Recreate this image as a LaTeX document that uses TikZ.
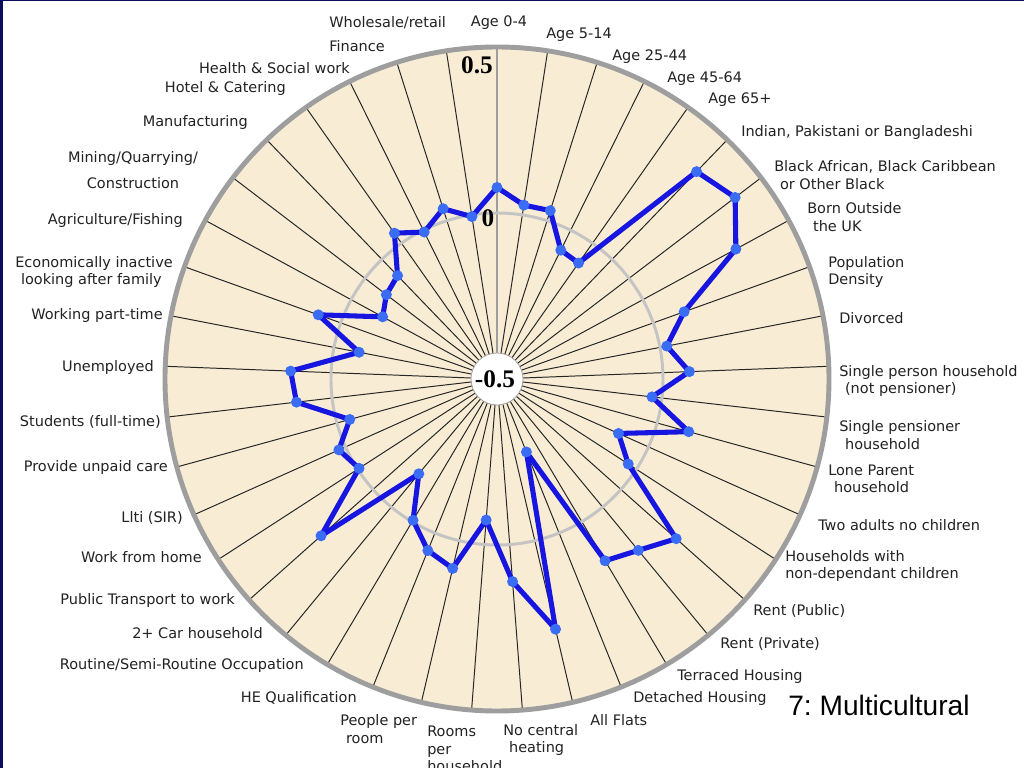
\documentclass[tikz,border=0pt]{standalone}
\usepackage{fontspec}
\setmainfont{DejaVu Sans}
\newfontfamily\numfont{Liberation Serif}
\newfontfamily\titlefont{Liberation Sans}
\definecolor{discfill}{RGB}{248,237,212}
\definecolor{ringgray}{RGB}{158,158,158}
\definecolor{zerogray}{RGB}{196,196,196}
\definecolor{lineblue}{RGB}{22,22,224}
\definecolor{dotblue}{RGB}{58,108,246}
\definecolor{framenavy}{RGB}{12,12,96}
\definecolor{labelgray}{RGB}{34,34,34}
\newcommand{\ind}{\hspace*{0.4em}}
\frenchspacing

\begin{document}
\begin{tikzpicture}[x=0.025cm, y=0.025cm,
    lbl/.style={font=\fontsize{10.3}{12.5}\selectfont, text=labelgray, inner sep=0pt, align=left},
    lblr/.style={lbl, anchor=west},
    lbll/.style={lbl, anchor=east, align=right},
    scalelbl/.style={font=\numfont\bfseries\fontsize{18}{18}\selectfont, inner sep=0pt},
    spoke/.style={black!85, line width=0.7pt},
    dataline/.style={lineblue, line width=3.6pt, line join=round},
    datadot/.style={fill=dotblue}]
\useasboundingbox (-497,-389) rectangle (527,379);
\fill[white] (-497,-389) rectangle (527,379);
\fill[framenavy] (-497,377.5) rectangle (527,379);
\fill[framenavy] (-497,-389) rectangle (-494,379);
% disc, spokes and rings
\fill[discfill] (0,0) circle (332);
\foreach \i in {1,...,40}
    \draw[spoke] (0,0) -- ({90-\i*360/41}:332);
\draw[ringgray, line width=1.4pt] (0,0) -- (90:332);
\draw[zerogray, line width=2.1pt] (0,0) circle (166);
\draw[ringgray, line width=3.5pt] (0,0) circle (332);
\filldraw[fill=white, draw=gray!70, line width=0.6pt] (0,0) circle (26);
% values, -0.5 at the centre, 0.5 on the rim
\foreach \v [count=\i from 0] in {0.077, 0.030, 0.032, -0.067, -0.073, 0.367, 0.402,
    0.319, 0.099, 0.021, 0.080, -0.030, 0.099, -0.099, -0.029, 0.223, 0.169, 0.137,
    -0.263, 0.274, 0.112, -0.074, 0.086, 0.057, -0.005, -0.130, 0.210, -0.005, 0.022,
    -0.040, 0.108, 0.122, -0.077, 0.072, -0.108, -0.081, -0.068, 0.037, -0.006, 0.038,
    -0.005}
    \coordinate (p\i) at ({90-\i*360/41}:{(\v+0.5)*332});
\draw[dataline] (p0) \foreach \i in {1,...,40} {-- (p\i)} -- cycle;
\foreach \i in {0,...,40}
    \fill[datadot] (p\i) circle (5.5);
% scale
\node[scalelbl] (top) at (-20,314) {0.5};
\node[scalelbl] (zero) at (-9,161) {0};
\node[scalelbl] (centre) at (-2,0) {-0.5};
% variable labels
\node[lbl] (age04) at (2,356) {Age 0-4};
\node[lblr] (age514) at (49,344) {Age 5-14};
\node[lblr] (age2544) at (115,322) {Age 25-44};
\node[lblr] (age4564) at (170,300) {Age 45-64};
\node[lblr] (age65) at (211,279) {Age 65+};
\node[lblr] (indian) at (244,246) {Indian, Pakistani or Bangladeshi};
\node[lblr] (black) at (277,204) {Black African, Black Caribbean\\\ind or Other Black};
\node[lblr] (born) at (310,162) {Born Outside\\\ind the UK};
\node[lblr] (density) at (331,107) {Population\\Density};
\node[lblr] (divorced) at (342,61) {Divorced};
\node[lblr] (single) at (342,-2) {Single person household\\\ind(not pensioner)};
\node[lblr] (pensioner) at (342,-56) {Single pensioner\\\ind household};
\node[lblr] (lone) at (331,-100) {Lone Parent\\\ind household};
\node[lblr] (twoadults) at (321,-146) {Two adults no children};
\node[lblr] (nondep) at (288,-187) {Households with\\non-dependant children};
\node[lblr] (public) at (256,-232) {Rent (Public)};
\node[lblr] (private) at (223,-265) {Rent (Private)};
\node[lblr] (terraced) at (180,-298) {Terraced Housing};
\node[lblr] (detached) at (136,-319) {Detached Housing};
\node[lblr] (flats) at (93,-341) {All Flats};
\node[lblr] (heating) at (6,-361) {No central\\\ind heating};
\node[lblr] (rooms) at (-70,-370) {Rooms\\per\\household};
\node[lblr] (people) at (-157,-350) {People per\\\ind room};
\node[lbll] (he) at (-140,-319) {HE Qualification};
\node[lbll] (routine) at (-193,-286) {Routine/Semi-Routine Occupation};
\node[lbll] (car) at (-234,-254) {2+ Car household};
\node[lbll] (transport) at (-262,-222) {Public Transport to work};
\node[lbll] (home) at (-295,-178) {Work from home};
\node[lbll] (llti) at (-314,-139) {Llti (SIR)};
\node[lbll] (care) at (-329,-89) {Provide unpaid care};
\node[lbll] (students) at (-336,-43) {Students (full-time)};
\node[lbll] (unemployed) at (-343,11) {Unemployed};
\node[lbll] (parttime) at (-334,63) {Working part-time};
\node[lblr] (inactive) at (-482,107) {Economically inactive\\\ind looking after family};
\node[lbll] (agri) at (-314,158) {Agriculture/Fishing};
\node[lbl, align=center] (mining) at (-364,209) {Mining/Quarrying/\\[6pt]Construction};
\node[lbll] (manuf) at (-249,256) {Manufacturing};
\node[lbll] (hotel) at (-211,290) {Hotel \& Catering};
\node[lbll] (health) at (-147,311) {Health \& Social work};
\node[lblr] (finance) at (-168,333) {Finance};
\node[lblr] (wholesale) at (-168,356) {Wholesale/retail};
% cluster name
\node[font=\titlefont\fontsize{20}{20}\selectfont, inner sep=0pt] (title) at (382,-326) {7: Multicultural};
\end{tikzpicture}
\end{document}
